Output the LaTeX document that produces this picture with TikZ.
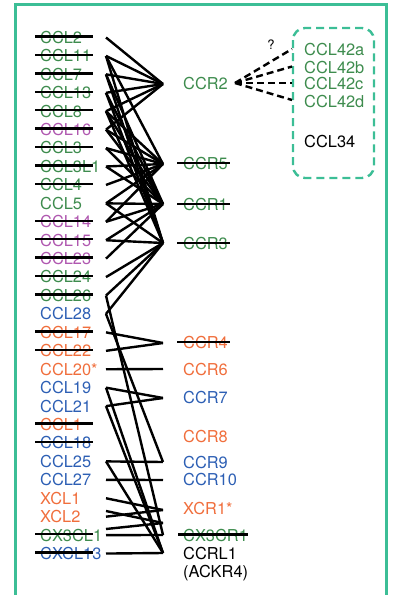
\documentclass[tikz,border=0pt]{standalone}
\usepackage{fontspec}
\setmainfont{TeX Gyre Heros}
\definecolor{cgreen}{RGB}{62,140,78}
\definecolor{cpurple}{RGB}{176,88,176}
\definecolor{cblue}{RGB}{45,95,180}
\definecolor{corange}{RGB}{240,110,60}
\definecolor{cteal}{RGB}{60,190,150}
\begin{document}
\begin{tikzpicture}[x=1pt,y=-1pt,
  lab/.style={anchor=base west,inner sep=0pt,font=\fontsize{16.4}{19}\selectfont},
  conn/.style={line width=2.4pt,black},
  strike/.style={line width=2.4pt,black},
  dconn/.style={line width=2.4pt,black,dash pattern=on 7pt off 4pt}]
\useasboundingbox (0,0) rectangle (395,595);
% frame
\draw[cteal,line width=3pt] (15,605) -- (15,4) -- (386,4) -- (386,605);
% ligands
\foreach \n/\t/\c/\s [count=\i from 0] in {
 L2/CCL2/cgreen/1, L11/CCL11/cgreen/1, L7/CCL7/cgreen/1, L13/CCL13/cgreen/1,
 L8/CCL8/cgreen/1, L16/CCL16/cpurple/1, L3/CCL3/cgreen/1, L3L1/CCL3L1/cgreen/1,
 L4/CCL4/cgreen/1, L5/CCL5/cgreen/0, L14/CCL14/cpurple/1, L15/CCL15/cpurple/1,
 L23/CCL23/cpurple/1, L24/CCL24/cgreen/1, L26/CCL26/cgreen/1, L28/CCL28/cblue/0,
 L17/CCL17/corange/1, L22/CCL22/corange/1, L20/CCL20*/corange/0, L19/CCL19/cblue/0,
 L21/CCL21/cblue/0, L1/CCL1/corange/1, L18/CCL18/cblue/1, L25/CCL25/cblue/0,
 L27/CCL27/cblue/0, X1/XCL1/corange/0, X2/XCL2/corange/0, CX3/CX3CL1/cgreen/1,
 CX13/CXCL13/cblue/1}{
  \pgfmathsetmacro\yy{37.5+18.43*\i}
  \node[lab,text=\c] (n\n) at (40,\yy+5.9) {\t};
  \coordinate (p\n) at (106,\yy);
  \ifnum\s=1 \draw[strike] (35,\yy-1) -- (93,\yy-1); \fi
}
\coordinate (pX2b) at (106,511);
\coordinate (pCX3b) at (106,529);
% receptors
\foreach \n/\t/\c/\y/\s in {
 R2/CCR2/cgreen/84/0, R5/CCR5/cgreen/164/1, R1/CCR1/cgreen/205/1, R3/CCR3/cgreen/244/1,
 R4/CCR4/corange/343/1, R6/CCR6/corange/370/0, R7/CCR7/cblue/398/0, R8/CCR8/corange/437/0,
 R9/CCR9/cblue/463/0, R10/CCR10/cblue/480/0, XR/XCR1*/corange/509/0, RL/CCRL1/black/553.5/0}{
  \node[lab,text=\c] (n\n) at (183,\y+5.9) {\t};
  \ifnum\s=1 \draw[strike] (177,\y-1) -- (230,\y-1); \fi
}
\node[lab,text=cgreen] (nCXR) at (183,535.5+5.9) {CX3CR1};
\draw[strike] (178,534.5) -- (248,534.5);
\node[lab] (nACK) at (183,572+5.9) {(ACKR4)};
% vertices
\foreach \n/\y in {R2/84,R5/164,R1/204,R3/243,R4/343,R6/369,R7/398,R9/462,R10/480,XR/510,XRb/523,CXR/535,RL/553}
  \coordinate (v\n) at (163,\y);
% connections
\foreach \r/\ls in {
 R2/{L2,L11,L7,L13,L8,L16},
 R5/{L3,L3L1,L4,L5,L8,L14,L16,L11},
 R1/{L3,L3L1,L5,L7,L8,L13,L14,L15,L16,L23},
 R3/{L5,L7,L8,L11,L13,L15,L24,L26,L28},
 R4/{L17,L22}, R6/{L20}, R7/{L19,L21}, R9/{L25,L28}, R10/{L27},
 XR/{X1,X2}, XRb/{X2b,CX3b}, CXR/{CX3,L26}, RL/{L19,L21,L25,CX13}}{
  \foreach \l in \ls { \draw[conn] (p\l) -- (v\r); }
}
% dashed box
\draw[cteal,line width=2.4pt,dash pattern=on 8pt off 5pt,rounded corners=12pt] (293,28) rectangle (374,178);
\foreach \n/\t/\y in {a/CCL42a/49.7, b/CCL42b/67.5, c/CCL42c/84, d/CCL42d/102}{
  \node[lab,text=cgreen] (n42\n) at (304,\y+5.9) {\t};
}
\node[lab] (n34) at (304,141.7+5.9) {CCL34};
\coordinate (c2) at (235,83);
\foreach \n/\y in {a/49,b/66.5,c/83,d/100}{
  \coordinate (d\n) at (292,\y);
  \draw[dconn] (c2) -- (d\n);
}
\node[inner sep=0pt,font=\fontsize{13}{15}\selectfont] (q) at (271,45) {?};
\end{tikzpicture}
\end{document}
